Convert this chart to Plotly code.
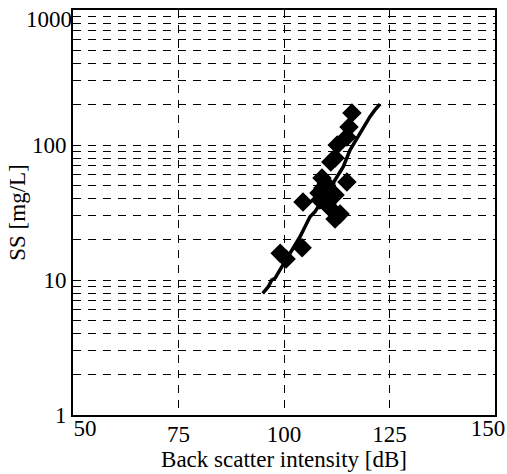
import plotly.graph_objects as go

# Measured data (diamonds)
intensity_db = [116.1, 115.4, 114.9, 112.6, 112.1, 111.1, 109.0, 110.0, 114.9, 109.2,
                112.1, 104.5, 108.5, 110.2, 110.9, 113.3, 112.1, 104.3, 99.1, 100.5,
                108.3, 110.4]
ss_mg_l = [172.6, 135.9, 114.6, 100.0, 80.1, 74.8, 57.0, 51.4, 53.2, 48.0,
           42.6, 37.8, 39.1, 36.5, 34.1, 30.8, 28.3, 17.3, 15.8, 14.3,
           44.1, 46.4]

# Fitted curve
fit_db = [94.95, 96.28, 97.09, 97.87, 99.05, 100.24, 101.42, 102.61, 103.79, 104.98,
          106.16, 107.35, 108.53, 110.12, 112.09, 114.05, 115.64, 117.23, 119.19,
          120.38, 121.56, 122.75]
fit_ss = [7.97, 8.92, 10.0, 10.3, 11.9, 13.7, 15.8, 18.2, 20.9, 24.8,
          29.4, 32.1, 37.0, 43.9, 55.0, 69.1, 91.8, 112, 141,
          162, 182, 201]

x_first_tick = [50]
x_ticks = [75, 100, 125]
x_last_tick = [150]
y_ticks = [1, 10, 100]
y_top_tick = [1000]

FONT = "Liberation Serif, Times New Roman, serif"
DASH = "8px,7px"
FS = 23
X_LABEL_STANDOFF = -3

fig = go.Figure()
fig.add_trace(go.Scatter(
    x=fit_db, y=fit_ss, mode="lines",
    line=dict(color="black", width=3.5), showlegend=False))
fig.add_trace(go.Scatter(
    x=intensity_db, y=ss_mg_l, mode="markers",
    marker=dict(symbol="diamond", size=15, color="black"), showlegend=False))

edge_x = dict(overlaying="x", matches="x", anchor="y", side="bottom", range=[50, 150],
              showgrid=False, showline=False, ticks="", zeroline=False,
              ticklabeloverflow="allow", automargin=False, tickfont=dict(size=FS),
              ticklabelstandoff=X_LABEL_STANDOFF)

fig.update_layout(
    width=507, height=474,
    margin=dict(l=73, r=12, t=10, b=59),
    paper_bgcolor="white", plot_bgcolor="white",
    font=dict(family=FONT, size=FS, color="black"),
    xaxis=dict(
        range=[50, 150], tickvals=x_ticks, ticktext=[str(v) for v in x_ticks],
        showgrid=True, gridcolor="black", griddash=DASH, gridwidth=1,
        showline=True, linecolor="black", linewidth=2, mirror=True,
        ticks="", zeroline=False, ticklabeloverflow="allow", automargin=False,
        ticklabelstandoff=X_LABEL_STANDOFF,
        title=dict(text="Back scatter intensity [dB]", font=dict(size=FS), standoff=2),
        tickfont=dict(size=FS),
    ),
    xaxis2=dict(tickvals=x_first_tick, ticktext=[str(v) for v in x_first_tick],
                ticklabelshift=12, **edge_x),
    xaxis3=dict(tickvals=x_last_tick, ticktext=[str(v) for v in x_last_tick],
                ticklabelshift=-7, **edge_x),
    yaxis=dict(
        type="log", range=[0, 3], tickvals=y_ticks, ticktext=[str(v) for v in y_ticks],
        showgrid=True, gridcolor="black", griddash=DASH, gridwidth=1,
        minor=dict(dtick="D1", showgrid=True, gridcolor="black", griddash=DASH,
                   gridwidth=1, ticks=""),
        showline=True, linecolor="black", linewidth=2, mirror=True,
        ticks="", zeroline=False, ticklabeloverflow="allow", automargin=False,
        title=dict(text="SS [mg/L]", font=dict(size=FS), standoff=0),
        tickfont=dict(size=FS),
    ),
    yaxis2=dict(
        overlaying="y", matches="y", anchor="x", side="left", type="log", range=[0, 3],
        tickvals=y_top_tick, ticktext=[str(v) for v in y_top_tick],
        ticklabelshift=9, showgrid=False, showline=False,
        ticks="", zeroline=False, ticklabeloverflow="allow", automargin=False,
        tickfont=dict(size=FS),
    ),
)
# empty traces so the overlaid axes carrying the edge labels are drawn
fig.add_trace(go.Scatter(x=[], y=[], xaxis="x2", yaxis="y", showlegend=False, hoverinfo="skip"))
fig.add_trace(go.Scatter(x=[], y=[], xaxis="x3", yaxis="y", showlegend=False, hoverinfo="skip"))
fig.add_trace(go.Scatter(x=[], y=[], xaxis="x", yaxis="y2", showlegend=False, hoverinfo="skip"))

fig.write_html("out.html")
